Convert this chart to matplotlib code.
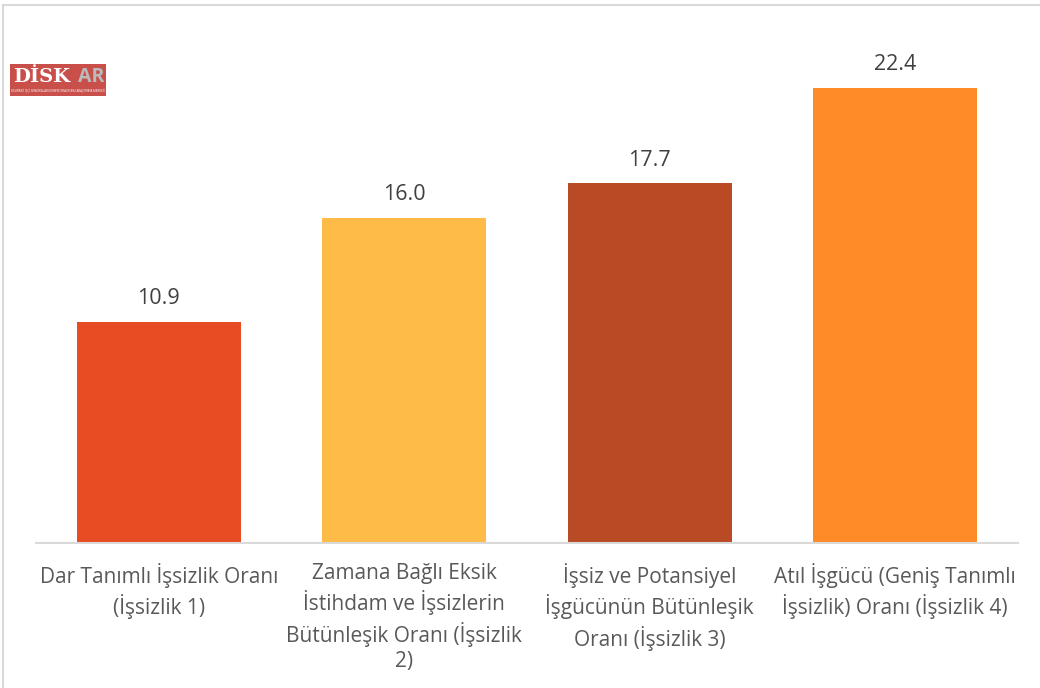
import matplotlib
matplotlib.use("Agg")
import matplotlib.pyplot as plt
from matplotlib.patches import Rectangle

categories = [
    "Dar Tanımlı İşsizlik Oranı\n(İşsizlik 1)",
    "Zamana Bağlı Eksik\nİstihdam ve İşsizlerin\nBütünleşik Oranı (İşsizlik\n2)",
    "İşsiz ve Potansiyel\nİşgücünün Bütünleşik\nOranı (İşsizlik 3)",
    "Atıl İşgücü (Geniş Tanımlı\nİşsizlik) Oranı (İşsizlik 4)",
]
values = [10.9, 16.0, 17.7, 22.4]
colors = ["#E84C22", "#FFBB48", "#B84A25", "#FF8A28"]

plt.rcParams['font.family'] = ['Open Sans', 'DejaVu Sans']

W, H = 1040, 688
fig = plt.figure(figsize=(W / 100, H / 100), dpi=100)

# outer chart border (top and left visible)
fig.add_artist(plt.Line2D([3 / W, 3 / W], [0, 1 - 5 / H], color="#D9D9D9", lw=1.5, transform=fig.transFigure))
fig.add_artist(plt.Line2D([3 / W, 1], [1 - 5 / H, 1 - 5 / H], color="#D9D9D9", lw=1.5, transform=fig.transFigure))

left, right, top, bottom = 36, 1018, 35, 543
ax = fig.add_axes([left / W, (H - bottom) / H, (right - left) / W, (bottom - top) / H])

x = range(len(values))
bars = ax.bar(x, values, width=0.67, color=colors, zorder=2)
ax.set_xlim(-0.5, len(values) - 0.5)
ax.set_ylim(0, 25)

for xi, v in zip(x, values):
    ax.annotate(f"{v:.1f}", (xi, v), xytext=(0, 16.5), textcoords="offset points",
                ha="center", va="center", fontsize=15.5, color="#404040")

ax.set_xticks(list(x))
ax.set_xticklabels(categories, fontsize=15, color="#595959", linespacing=1.31, va="top")
ax.tick_params(axis="x", length=0, pad=14.5)
ax.set_yticks([])
for s in ["top", "right", "left"]:
    ax.spines[s].set_visible(False)
ax.spines["bottom"].set_color("#D9D9D9")
ax.spines["bottom"].set_linewidth(1.5)

# logo
lx0, ly0, lw, lh = 10, 64, 96, 32
fig.add_artist(Rectangle((lx0 / W, 1 - (ly0 + lh) / H), lw / W, lh / H,
                         transform=fig.transFigure, facecolor="#C9504A", edgecolor="none"))
fig.text((lx0 + 3) / W, 1 - (ly0 + 13) / H, "DİSK", fontsize=14, fontweight="bold",
         color="white", ha="left", va="center", family=["DejaVu Serif"])
fig.text((lx0 + 68) / W, 1 - (ly0 + 13) / H, "AR", fontsize=14, fontweight="bold",
         color="#BBBBBB", ha="left", va="center")
fig.text((lx0 + 48) / W, 1 - (ly0 + 27) / H, "DEVRİMCİ İŞÇİ SENDİKALARI KONFEDERASYONU ARAŞTIRMA MERKEZİ",
         fontsize=2.2, color="white", ha="center", va="center")

fig.savefig("out.png", dpi=100)
